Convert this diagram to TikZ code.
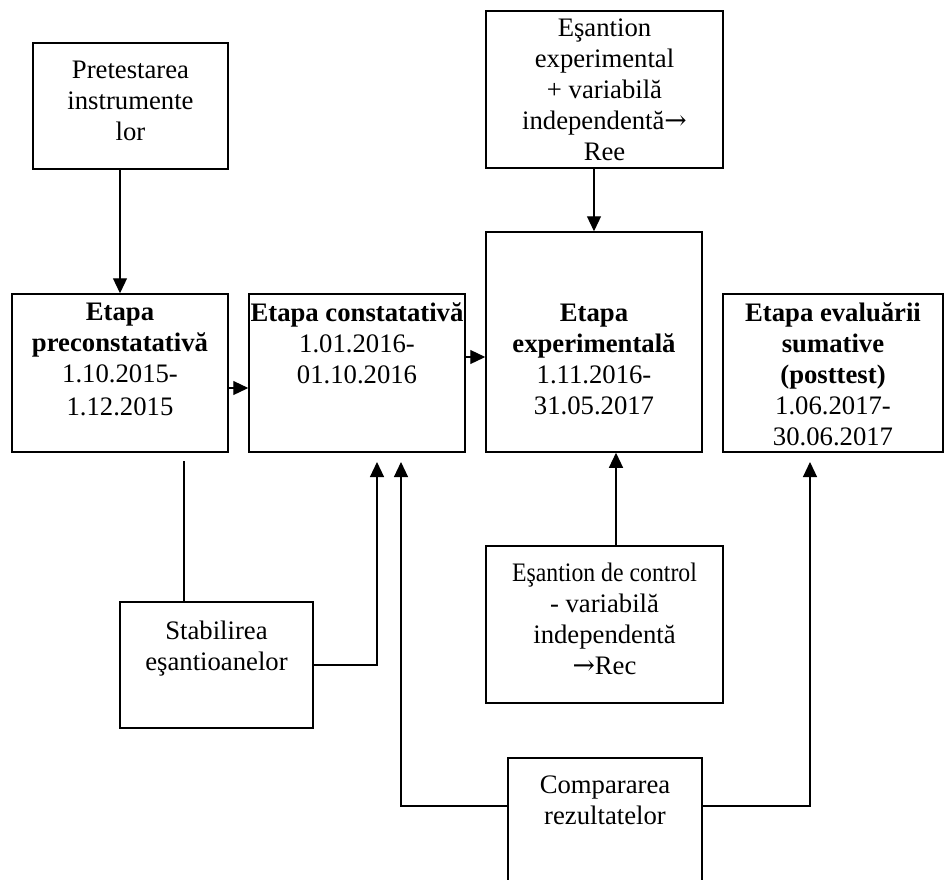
\documentclass[tikz,border=0pt]{standalone}
\usepackage{fontspec}
\setmainfont{Liberation Serif}
\newfontfamily\arrowfont{DejaVu Serif}
\newcommand{\toarrow}{{\arrowfont →}}
\usetikzlibrary{arrows.meta}
\begin{document}
\begin{tikzpicture}[x=1pt,y=-1pt,line width=1.2pt,
    box/.style={draw,rectangle,inner sep=0pt,line width=1.5pt},
    txt/.style={anchor=north,align=center,inner sep=0pt,font=\fontsize{26.7}{31}\selectfont},
    arr/.style={-{Triangle[width=14pt,length=15pt]}}]
    \useasboundingbox (0,0) rectangle (947,879);
    \node[box,minimum width=195pt,minimum height=126pt] (pre) at (130.5,106) {};
    \node[box,minimum width=237pt,minimum height=157pt] (esexp) at (604.5,89.5) {};
    \node[box,minimum width=216pt,minimum height=158pt] (prec) at (120,373) {};
    \node[box,minimum width=216pt,minimum height=158pt] (cons) at (357,373) {};
    \node[box,minimum width=216pt,minimum height=220pt] (exp) at (594,342) {};
    \node[box,minimum width=220pt,minimum height=158pt] (eval) at (833,373) {};
    \node[box,minimum width=193pt,minimum height=126pt] (stab) at (216.5,665) {};
    \node[box,minimum width=237pt,minimum height=157pt] (esctrl) at (604.5,624.5) {};
    \node[box,minimum width=194pt,minimum height=128pt] (comp) at (605,822) {};
    % texts
    \node[txt] (preT) at ([yshift=-18pt]pre.north) {Pretestarea\\instrumente\\lor};
    \node[txt] (esexpT) at ([yshift=-8pt]esexp.north) {Eşantion\\experimental\\+ variabilă\\independentă\toarrow\\Ree};
    \node[txt] (precT) at ([yshift=-9pt]prec.north) {\textbf{Etapa}\\\textbf{preconstatativă}\\1.10.2015-\\[2pt]1.12.2015};
    \node[txt] (consT) at ([yshift=-9pt]cons.north) {\textbf{Etapa constatativă}\\1.01.2016-\\01.10.2016};
    \node[txt] (expT) at ([yshift=-72pt]exp.north) {\textbf{Etapa}\\\textbf{experimentală}\\1.11.2016-\\31.05.2017};
    \node[txt] (evalT) at ([yshift=-9pt]eval.north) {\textbf{Etapa evaluării}\\\textbf{sumative}\\\textbf{(posttest)}\\1.06.2017-\\30.06.2017};
    \node[txt] (stabT) at ([yshift=-19pt]stab.north) {Stabilirea\\eşantioanelor};
    \node[txt] (esctrlT) at ([yshift=-17pt]esctrl.north) {\scalebox{0.89}[1]{Eşantion de control}\\- variabilă\\independentă\\\toarrow Rec};
    \node[txt] (compT) at ([yshift=-18pt]comp.north) {Compararea\\rezultatelor};
    \coordinate (g) at (184,461);
    \coordinate (c1) at (377,462);
    \coordinate (c2) at (401,462);
    \coordinate (c3) at (810,462);
    % connectors
    \draw[arr] (prec.north |- pre.south) -- (prec.north);
    \draw[arr] (exp.north |- esexp.south) -- (exp.north);
    \draw[arr] ([yshift=-15pt]prec.east) -- ([yshift=-15pt]prec.east -| cons.west);
    \draw[arr] ([yshift=16pt]cons.east) -- ([yshift=16pt]cons.east -| exp.west);
    \draw (g) -- (g |- stab.north);
    \draw[arr] (stab.east) -| (c1);
    \draw[arr] ([yshift=16pt]comp.west) -| (c2);
    \draw[arr] ([yshift=16pt]comp.east) -| (c3);
    \draw[arr] ([xshift=11.5pt]esctrl.north) -- ([xshift=11.5pt]esctrl.north |- exp.south);
\end{tikzpicture}
\end{document}
